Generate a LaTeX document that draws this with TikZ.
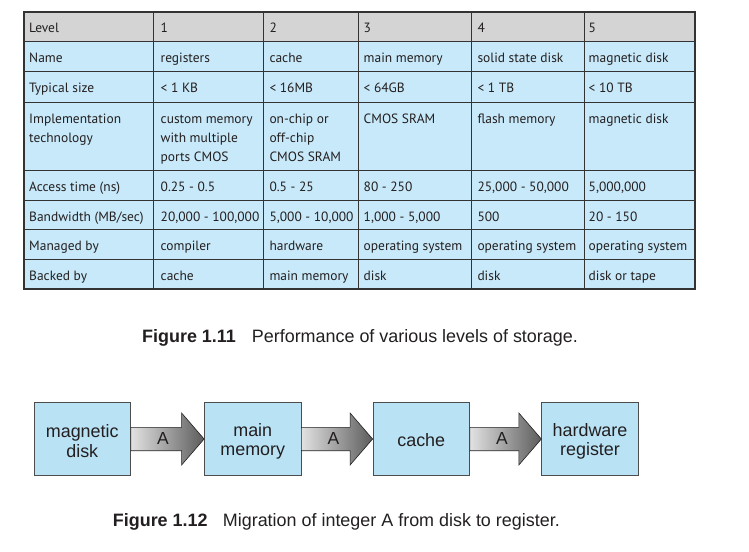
\documentclass[tikz,border=0pt]{standalone}
\usepackage{fontspec}
\setmainfont{Liberation Sans}
\newfontfamily\tabfont{PT Sans}
\definecolor{hdrgray}{HTML}{D4D4D4}
\definecolor{rowblue}{HTML}{C8E9F9}
\definecolor{gridline}{HTML}{333333}
\definecolor{boxblue}{HTML}{B9E2F5}
\definecolor{boxline}{HTML}{4D4D4D}
\definecolor{inkc}{HTML}{231F20}
\definecolor{arlight}{HTML}{E2E2E2}
\definecolor{ardark}{HTML}{5C5C5C}
\newcommand\topstrut{\rule{0pt}{17.5bp}}
\tikzset{
  cell/.style={anchor=base west, inner sep=0pt, text=inkc, font=\tabfont\fontsize{13.5}{15}\selectfont},
  capbold/.style={anchor=base west, inner sep=0pt, text=inkc, font=\bfseries\fontsize{18}{20}\selectfont},
  captext/.style={anchor=base west, inner sep=0pt, text=inkc, font=\fontsize{18}{20}\selectfont},
  storebox/.style={draw=boxline, line width=0.8bp, fill=boxblue, minimum width=96.5bp, minimum height=72.5bp,
    inner sep=0pt, align=center, text=inkc, font=\fontsize{18}{19.5}\selectfont},
  blockarrow/.style={draw=inkc, line width=0.6bp, left color=arlight, right color=ardark},
  arlabel/.style={inner sep=0pt, text=inkc, font=\fontsize{17.5}{19.5}\selectfont},
  inner/.style={draw=gridline, line width=1bp},
  outer/.style={draw=gridline, line width=1.7bp},
}
\begin{document}
\begin{tikzpicture}[x=1bp,y=-1bp]
\useasboundingbox (0,0) rectangle (749,552);
% ---------- table ----------
\fill[hdrgray] (24,12) rectangle (695,42);
\fill[rowblue] (24,42) rectangle (695,289);
\foreach \yy in {42,72,103,171,201,230,260}
  \draw[inner] (24,\yy) -- (695,\yy);
\foreach \xx in {153.5,263.3,358.3,471.7,584.3}
  \draw[inner] (\xx,12) -- (\xx,289);
\draw[outer] (24,12) rectangle (695,289);
% row: Level
\node[cell] (lv0) at (29,32.5) {Level};
\node[cell] (lv1) at (160.5,32.5) {1};
\node[cell] (lv2) at (269.3,32.5) {2};
\node[cell] (lv3) at (363.5,32.5) {3};
\node[cell] (lv4) at (477.3,32.5) {4};
\node[cell] (lv5) at (588.5,32.5) {5};
% row: Name
\node[cell] (nm0) at (29,62.5) {Name};
\node[cell] (nm1) at (160.5,62.5) {registers};
\node[cell] (nm2) at (269.3,62.5) {cache};
\node[cell] (nm3) at (363.5,62.5) {main memory};
\node[cell] (nm4) at (477.3,62.5) {solid state disk};
\node[cell] (nm5) at (588.5,62.5) {magnetic disk};
% row: Typical size
\node[cell] (ts0) at (29,92.5) {Typical size};
\node[cell] (ts1) at (160.5,92.5) {< 1 KB};
\node[cell] (ts2) at (269.3,92.5) {< 16MB};
\node[cell] (ts3) at (363.5,92.5) {< 64GB};
\node[cell] (ts4) at (477.3,92.5) {< 1 TB};
\node[cell] (ts5) at (588.5,92.5) {< 10 TB};
% row: Implementation technology
\node[cell] (it0a) at (29,123.3) {Implementation};
\node[cell] (it0b) at (29,142.6) {technology};
\node[cell] (it1a) at (160.5,123.3) {custom memory};
\node[cell] (it1b) at (160.5,142.6) {with multiple};
\node[cell] (it1c) at (160.5,161.9) {ports CMOS};
\node[cell] (it2a) at (269.3,123.3) {on-chip or};
\node[cell] (it2b) at (269.3,142.6) {off-chip};
\node[cell] (it2c) at (269.3,161.9) {CMOS SRAM};
\node[cell] (it3) at (363.5,123.3) {CMOS SRAM};
\node[cell] (it4) at (477.3,123.3) {flash memory};
\node[cell] (it5) at (588.5,123.3) {magnetic disk};
% row: Access time
\node[cell] (ac0) at (29,191.6) {Access time (ns)};
\node[cell] (ac1) at (160.5,191.6) {0.25 - 0.5};
\node[cell] (ac2) at (269.3,191.6) {0.5 - 25};
\node[cell] (ac3) at (363.5,191.6) {80 - 250};
\node[cell] (ac4) at (477.3,191.6) {25,000 - 50,000};
\node[cell] (ac5) at (588.5,191.6) {5,000,000};
% row: Bandwidth
\node[cell] (bw0) at (29,221.6) {Bandwidth (MB/sec)};
\node[cell] (bw1) at (160.5,221.6) {20,000 - 100,000};
\node[cell] (bw2) at (269.3,221.6) {5,000 - 10,000};
\node[cell] (bw3) at (363.5,221.6) {1,000 - 5,000};
\node[cell] (bw4) at (477.3,221.6) {500};
\node[cell] (bw5) at (588.5,221.6) {20 - 150};
% row: Managed by
\node[cell] (mb0) at (29,250.9) {Managed by};
\node[cell] (mb1) at (160.5,250.9) {compiler};
\node[cell] (mb2) at (269.3,250.9) {hardware};
\node[cell] (mb3) at (363.5,250.9) {operating system};
\node[cell] (mb4) at (477.3,250.9) {operating system};
\node[cell] (mb5) at (588.5,250.9) {operating system};
% row: Backed by
\node[cell] (bk0) at (29,280.2) {Backed by};
\node[cell] (bk1) at (160.5,280.2) {cache};
\node[cell] (bk2) at (269.3,280.2) {main memory};
\node[cell] (bk3) at (363.5,280.2) {disk};
\node[cell] (bk4) at (477.3,280.2) {disk};
\node[cell] (bk5) at (588.5,280.2) {disk or tape};
% caption 1
\node[capbold] (c1a) at (142,342) {Figure 1.11};
\node[captext] (c1b) at (251.7,342) {Performance of various levels of storage.};
% ---------- migration ----------
\node[storebox] (b1) at (82.25,439) {\topstrut magnetic\\disk};
\node[storebox] (b2) at (252.75,439) {\topstrut main\\memory};
\node[storebox] (b3) at (421.25,439) {\rule{0pt}{15bp}cache};
\node[storebox] (b4) at (590,439) {\topstrut hardware\\register};
\foreach \s/\t/\n in {b1/b2/1, b2/b3/2, b3/b4/3}{
  \path[blockarrow] ([yshift=11.7bp]\s.east) -- ([xshift=-22.5bp,yshift=11.7bp]\t.west)
     -- ([xshift=-22.5bp,yshift=26bp]\t.west) -- (\t.west)
     -- ([xshift=-22.5bp,yshift=-26bp]\t.west) -- ([xshift=-22.5bp,yshift=-11.7bp]\t.west)
     -- ([yshift=-11.7bp]\s.east) -- cycle;
  \node[arlabel] (a\n) at ([xshift=32bp]\s.east) {A};
}
% caption 2
\node[capbold] (c2a) at (112.7,526) {Figure 1.12};
\node[captext] (c2b) at (222.7,526) {Migration of integer A from disk to register.};
\end{tikzpicture}
\end{document}
